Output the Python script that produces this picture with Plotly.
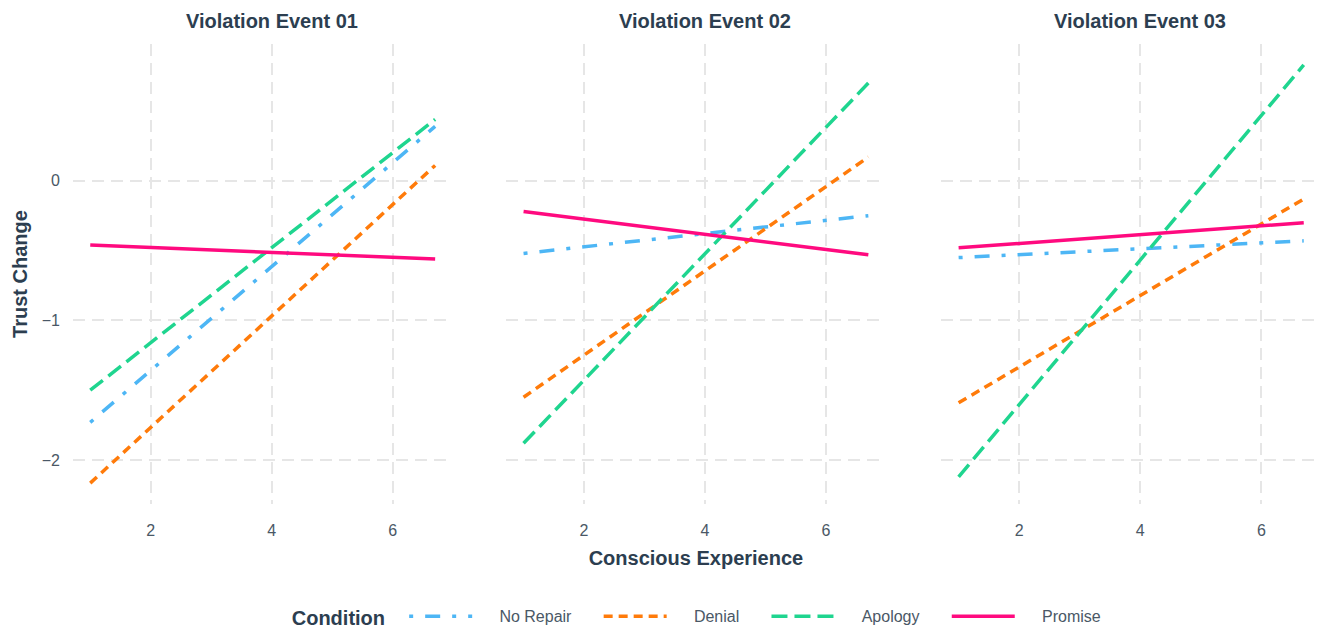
import plotly.graph_objects as go

# Fitted trust-change lines per violation event, evaluated at the ends of the
# conscious-experience range.
events = ["Violation Event 01", "Violation Event 02", "Violation Event 03"]
conditions = ["No Repair", "Denial", "Apology", "Promise"]
x_ends = [1.0, 6.7]

no_repair = [[-1.73, 0.39], [-0.52, -0.25], [-0.55, -0.43]]
denial = [[-2.165, 0.11], [-1.55, 0.17], [-1.59, -0.13]]
apology = [[-1.50, 0.44], [-1.88, 0.70], [-2.12, 0.83]]
promise = [[-0.46, -0.56], [-0.22, -0.53], [-0.48, -0.30]]

series = {"No Repair": no_repair, "Denial": denial, "Apology": apology, "Promise": promise}

colors = {"No Repair": "#4db6f5", "Denial": "#ff7b0a", "Apology": "#1fd58f", "Promise": "#ff0a7f"}
dashes = {
    "No Repair": "4px,12px,15px,12px",
    "Denial": "9px,6px",
    "Apology": "16px,7px",
    "Promise": "solid",
}

FONT = "Liberation Sans, Arial, sans-serif"
TITLE_COL = "#2c3e50"
TICK_COL = "#4a5866"
GRID_COL = "#e6e6e6"

# non-breaking spaces give the legend entries some breathing room
NB = "\u00a0"


def legend_label(name):
    return NB * 5 + name + NB * 5


fig = go.Figure()

for i, ev in enumerate(events):
    ax = "" if i == 0 else str(i + 1)
    for cond in conditions:
        fig.add_trace(go.Scatter(
            x=x_ends, y=series[cond][i], mode="lines", name=legend_label(cond),
            legendgroup=cond, showlegend=(i == 0),
            line=dict(color=colors[cond], width=3.5, dash=dashes[cond]),
            xaxis="x" + ax, yaxis="y" + ax,
        ))

# 5% padding around the data, like a default continuous scale
all_y = [v for c in conditions for pair in series[c] for v in pair]
ypad = 0.05 * (max(all_y) - min(all_y))
yrange = [min(all_y) - ypad, max(all_y) + ypad]
xpad = 0.05 * (x_ends[1] - x_ends[0])
xrange = [x_ends[0] - xpad, x_ends[1] + xpad]

domains = [[0.0, 0.304], [0.3472, 0.6511], [0.6958, 1.0]]

axis_common = dict(
    showgrid=True, gridcolor=GRID_COL, gridwidth=1.5, griddash="12px,7px",
    zeroline=False, showline=False, ticks="",
    tickfont=dict(family=FONT, size=16, color=TICK_COL),
)

layout = dict(
    width=1323, height=628,
    margin=dict(l=73, r=2, t=44, b=124),
    plot_bgcolor="white", paper_bgcolor="white",
    font=dict(family=FONT, color=TITLE_COL),
    showlegend=True,
    legend=dict(
        orientation="h", xref="container", yref="container",
        x=0.219, y=0.017, xanchor="left", yanchor="middle",
        title=dict(text="<b>Condition</b>" + NB * 2,
                   font=dict(family=FONT, size=20, color=TITLE_COL)),
        font=dict(family=FONT, size=16, color=TICK_COL),
        itemwidth=63,
    ),
)

for i in range(3):
    sfx = "" if i == 0 else str(i + 1)
    layout["xaxis" + sfx] = dict(
        axis_common, domain=domains[i], range=xrange,
        tickvals=[2, 4, 6], anchor="y" + sfx,
        ticklabelstandoff=15,
    )
    layout["yaxis" + sfx] = dict(
        axis_common, range=yrange, tickvals=[0, -1, -2],
        anchor="x" + sfx, showticklabels=(i == 0),
        ticklabelstandoff=12,
    )

layout["xaxis2"]["title"] = dict(
    text="<b>Conscious Experience</b>", font=dict(family=FONT, size=20, color=TITLE_COL), standoff=12,
)
layout["yaxis"]["title"] = dict(
    text="<b>Trust Change</b>", font=dict(family=FONT, size=20, color=TITLE_COL), standoff=8,
)

annotations = []
for i, ev in enumerate(events):
    annotations.append(dict(
        text="<b>" + ev + "</b>", xref="paper", yref="paper",
        x=sum(domains[i]) / 2, y=1, xanchor="center", yanchor="bottom",
        yshift=10, xshift=9,
        showarrow=False, font=dict(family=FONT, size=20, color=TITLE_COL),
    ))
layout["annotations"] = annotations

fig.update_layout(layout)
fig.write_html("out.html")
